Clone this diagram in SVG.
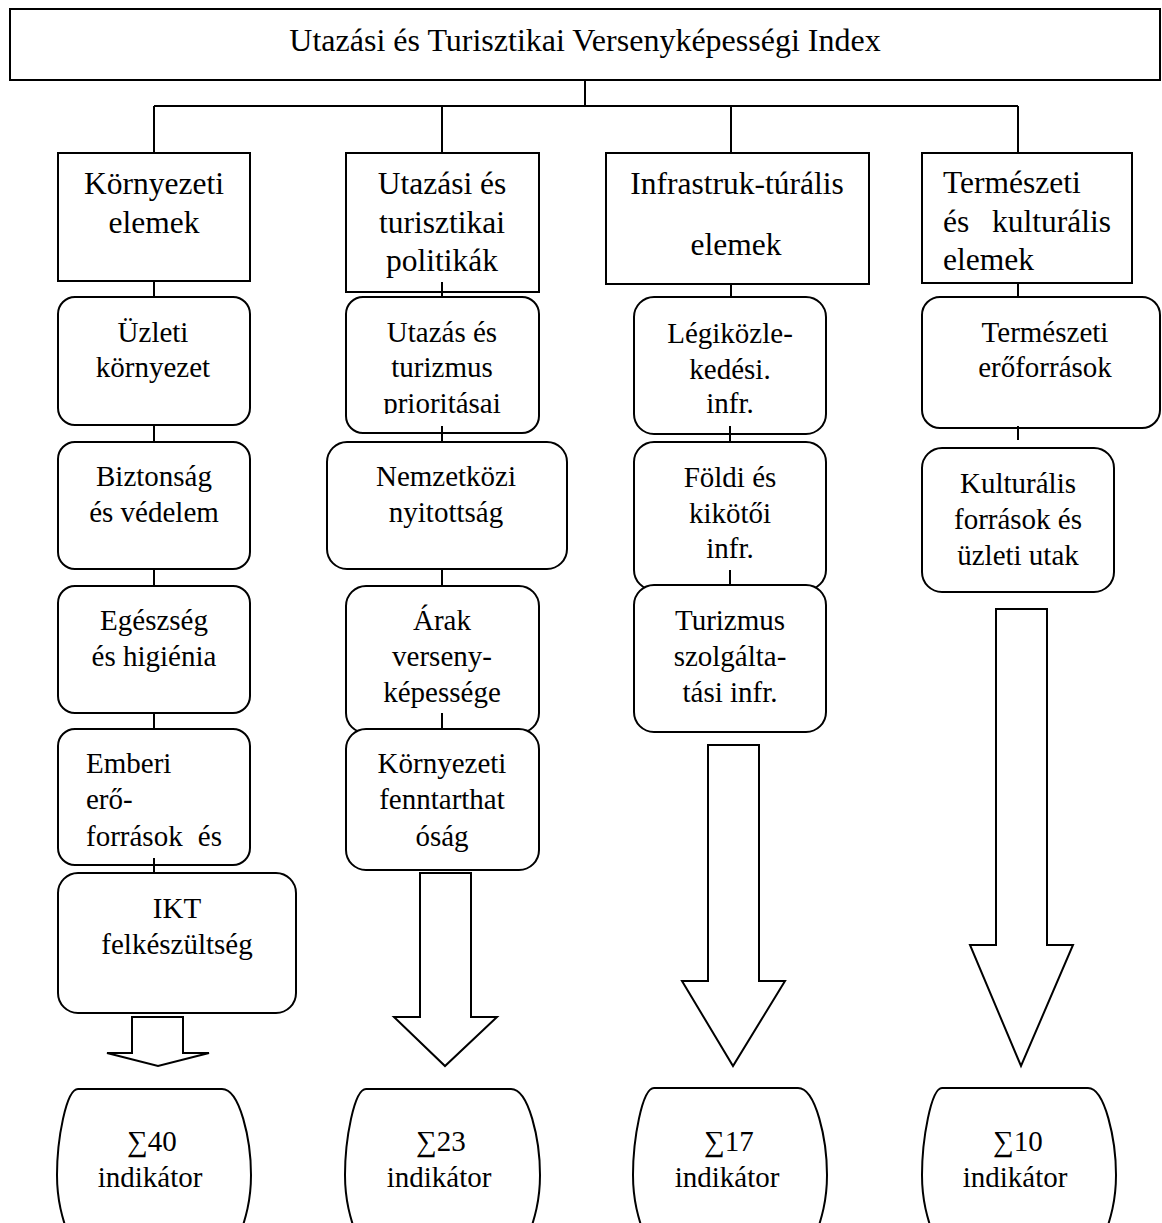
<svg xmlns="http://www.w3.org/2000/svg" width="1162" height="1223" viewBox="0 0 1162 1223">
<defs>
<style>
.b{fill:#fff;stroke:#000;stroke-width:2}
.c{stroke:#000;stroke-width:2;fill:none}
text{font-family:"Liberation Serif","Times New Roman",serif;font-size:29px;fill:#000}
.h{font-size:31.5px}
.t{font-size:32px}
.m{text-anchor:middle}
.e{text-anchor:end}
</style>
<clipPath id="clipP"><rect x="346" y="296" width="193" height="118"/></clipPath>
</defs>
<rect width="1162" height="1223" fill="#fff"/>

<g id="connectors">
<line class="c" x1="585" y1="80" x2="585" y2="106"/>
<line class="c" x1="154" y1="106" x2="1018" y2="106"/>
<line class="c" x1="154" y1="106" x2="154" y2="153"/>
<line class="c" x1="442" y1="106" x2="442" y2="153"/>
<line class="c" x1="731" y1="106" x2="731" y2="153"/>
<line class="c" x1="1018" y1="106" x2="1018" y2="153"/>
</g>

<g id="title">
<rect class="b" x="10" y="9" width="1150" height="71"/>
<text class="m t" x="585" y="51">Utazási és Turisztikai Versenyképességi Index</text>
</g>

<!-- Column 1 -->
<g id="h1">
<rect class="b" x="58" y="153" width="192" height="128"/>
<text class="m h" x="154" y="194">Környezeti</text>
<text class="m h" x="154" y="233">elemek</text>
</g>
<g id="c1">
<line class="c" x1="154" y1="281" x2="154" y2="297"/>
<line class="c" x1="154" y1="425" x2="154" y2="442"/>
<line class="c" x1="154" y1="569" x2="154" y2="586"/>
<line class="c" x1="154" y1="713" x2="154" y2="729"/>
<line class="c" x1="154" y1="858" x2="154" y2="873"/>
</g>
<g id="n1a">
<rect class="b" x="58" y="297" width="192" height="128" rx="17"/>
<text class="m" x="153" y="342">Üzleti</text>
<text class="m" x="153" y="377">környezet</text>
</g>
<g id="n1b">
<rect class="b" x="58" y="442" width="192" height="127" rx="17"/>
<text class="m" x="154" y="486">Biztonság</text>
<text class="m" x="154" y="522">és védelem</text>
</g>
<g id="n1c">
<rect class="b" x="58" y="586" width="192" height="127" rx="17"/>
<text class="m" x="154" y="630">Egészség</text>
<text class="m" x="154" y="666">és higiénia</text>
</g>
<g id="n1d">
<rect class="b" x="58" y="729" width="192" height="136" rx="17"/>
<text x="86" y="773">Emberi</text>
<text x="86" y="809">erő-</text>
<text x="86" y="846">források</text>
<text class="e" x="222" y="846">és</text>
<line class="c" x1="154" y1="858" x2="154" y2="865"/>
</g>
<g id="n1e">
<rect class="b" x="58" y="873" width="238" height="140" rx="20"/>
<text class="m" x="177" y="918">IKT</text>
<text class="m" x="177" y="954">felkészültség</text>
</g>
<g id="arrow1">
<polygon class="b" points="132,1017 183,1017 183,1053 209,1053 158,1066 107,1053 132,1053"/>
</g>
<g id="s1">
<path class="b" d="M78,1089 H222 C240,1089 251,1140 251,1175 C251,1200 246,1218 238,1240 H70 C62,1218 57,1200 57,1175 C57,1140 66,1089 78,1089 Z"/>
<text class="m" x="152" y="1151">∑40</text>
<text class="m" x="150" y="1187">indikátor</text>
</g>

<!-- Column 2 -->
<g id="h2">
<rect class="b" x="346" y="153" width="193" height="139"/>
<text class="m h" x="442" y="194">Utazási és</text>
<text class="m h" x="442" y="233">turisztikai</text>
<text class="m h" x="442" y="271">politikák</text>
</g>
<g id="n2a">
<rect class="b" x="346" y="297" width="193" height="136" rx="17"/>
<g clip-path="url(#clipP)">
<text class="m" x="442" y="342">Utazás és</text>
<text class="m" x="442" y="377">turizmus</text>
<text class="m" x="442" y="413">prioritásai</text>
</g>
</g>
<g id="n2b">
<rect class="b" x="327" y="442" width="240" height="127" rx="20"/>
<text class="m" x="446" y="486">Nemzetközi</text>
<text class="m" x="446" y="522">nyitottság</text>
</g>
<g id="n2c">
<rect class="b" x="346" y="586" width="193" height="147" rx="20"/>
<text class="m" x="442" y="630">Árak</text>
<text class="m" x="442" y="666">verseny-</text>
<text class="m" x="442" y="702">képessége</text>
</g>
<g id="n2d">
<rect class="b" x="346" y="729" width="193" height="141" rx="20"/>
<text class="m" x="442" y="773">Környezeti</text>
<text class="m" x="442" y="809">fenntarthat</text>
<text class="m" x="442" y="846">óság</text>
</g>
<g id="c2">
<line class="c" x1="442" y1="282" x2="442" y2="297"/>
<line class="c" x1="442" y1="426" x2="442" y2="442"/>
<line class="c" x1="442" y1="569" x2="442" y2="586"/>
<line class="c" x1="442" y1="713" x2="442" y2="729"/>
</g>
<g id="arrow2">
<polygon class="b" points="420,873 471,873 471,1017 497,1017 445,1066 394,1017 420,1017"/>
</g>
<g id="s2">
<path class="b" d="M366,1089 H511 C529,1089 540,1140 540,1175 C540,1200 535,1218 527,1240 H358 C350,1218 345,1200 345,1175 C345,1140 354,1089 366,1089 Z"/>
<text class="m" x="441" y="1151">∑23</text>
<text class="m" x="439" y="1187">indikátor</text>
</g>

<!-- Column 3 -->
<g id="h3">
<rect class="b" x="606" y="153" width="263" height="131"/>
<text class="m h" x="737" y="194">Infrastruk-túrális</text>
<text class="m h" x="736" y="255">elemek</text>
</g>
<g id="n3a">
<rect class="b" x="634" y="297" width="192" height="137" rx="20"/>
<text class="m" x="730" y="343">Légiközle-</text>
<text class="m" x="730" y="379">kedési.</text>
<text class="m" x="730" y="413">infr.</text>
</g>
<g id="n3b">
<rect class="b" x="634" y="442" width="192" height="148" rx="20"/>
<text class="m" x="730" y="487">Földi és</text>
<text class="m" x="730" y="523">kikötői</text>
<text class="m" x="730" y="558">infr.</text>
</g>
<g id="n3c">
<rect class="b" x="634" y="585" width="192" height="147" rx="20"/>
<text class="m" x="730" y="630">Turizmus</text>
<text class="m" x="730" y="666">szolgálta-</text>
<text class="m" x="730" y="702">tási infr.</text>
</g>
<g id="c3">
<line class="c" x1="731" y1="284" x2="731" y2="297"/>
<line class="c" x1="730" y1="426" x2="730" y2="442"/>
<line class="c" x1="730" y1="570" x2="730" y2="585"/>
</g>
<g id="arrow3">
<polygon class="b" points="708,745 759,745 759,981 785,981 733,1066 682,981 708,981"/>
</g>
<g id="s3">
<path class="b" d="M654,1088 H798 C816,1088 827,1140 827,1175 C827,1200 822,1218 814,1240 H646 C638,1218 633,1200 633,1175 C633,1140 642,1088 654,1088 Z"/>
<text class="m" x="729" y="1151">∑17</text>
<text class="m" x="727" y="1187">indikátor</text>
</g>

<!-- Column 4 -->
<g id="h4">
<rect class="b" x="922" y="153" width="210" height="130"/>
<text class="h" x="943" y="193">Természeti</text>
<text class="h" x="943" y="232">és</text>
<text class="e h" x="1111" y="232">kulturális</text>
<text class="h" x="943" y="270">elemek</text>
</g>
<g id="n4a">
<rect class="b" x="922" y="297" width="238" height="131" rx="18"/>
<text class="m" x="1045" y="342">Természeti</text>
<text class="m" x="1045" y="377">erőforrások</text>
</g>
<g id="n4b">
<rect class="b" x="922" y="448" width="192" height="144" rx="20"/>
<text class="m" x="1018" y="493">Kulturális</text>
<text class="m" x="1018" y="529">források és</text>
<text class="m" x="1018" y="565">üzleti utak</text>
</g>
<g id="c4">
<line class="c" x1="1018" y1="283" x2="1018" y2="297"/>
<line class="c" x1="1018" y1="426" x2="1018" y2="440"/>
</g>
<g id="arrow4">
<polygon class="b" points="996,609 1047,609 1047,945 1073,945 1021,1066 970,945 996,945"/>
</g>
<g id="s4">
<path class="b" d="M942,1088 H1088 C1105,1088 1116,1140 1116,1175 C1116,1200 1111,1218 1103,1240 H935 C927,1218 922,1200 922,1175 C922,1140 931,1088 942,1088 Z"/>
<text class="m" x="1018" y="1151">∑10</text>
<text class="m" x="1015" y="1187">indikátor</text>
</g>
</svg>
